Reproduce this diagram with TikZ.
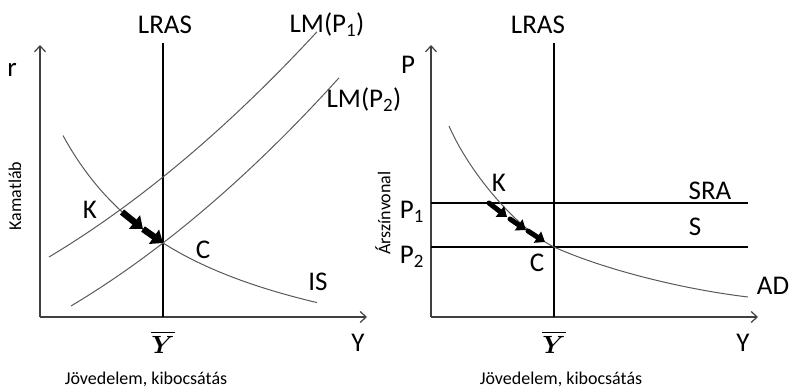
\documentclass[tikz,border=0pt]{standalone}
\usepackage{fontspec}
\setmainfont{Carlito}
\usepackage{amsmath}
\usepackage{bm}
\usetikzlibrary{arrows.meta}

\begin{document}
\begin{tikzpicture}[x=1pt, y=-1pt,
  axisline/.style={-{Straight Barb[length=6pt, width=11pt]}, line width=1.2pt, color=black!75},
  lras/.style={line width=2pt, color=black},
  mcurve/.style={line width=1pt, color=black!65},
  pline/.style={line width=2pt, color=black},
  adjarrow/.style={-{Triangle[length=11pt, width=17pt]}, line width=6.5pt, color=black},
  smallarrow/.style={-{Triangle[length=9pt, width=13pt]}, line width=5pt, line cap=round, color=black},
  lbl/.style={font=\fontsize{27}{30}\selectfont, inner sep=0pt},
  axtitle/.style={font=\fontsize{18}{20}\selectfont, inner sep=0pt},
  ybar/.style={font=\fontsize{24}{26}\selectfont, inner sep=0pt}
]
\useasboundingbox (0,0) rectangle (790,387);

% --- Left: IS-LM panel ---
\coordinate (lo)   at (40,317);
\coordinate (ltop) at (40,45);
\coordinate (lend) at (367,317);
\coordinate (lK)   at (122,212);
\coordinate (lM)   at (143,229);
\coordinate (lMM)  at (143,229);
\coordinate (lC)   at (163,243);
\draw[axisline] (lo) -- (ltop);
\draw[axisline] (lo) -- (lend);
\draw[lras] (163,43) -- (163,317);

% LM(P1), LM(P2), IS
\draw[mcurve] plot[domain=49:317, samples=60] (\x, {257 - 0.7018*(\x-49) - 0.000895*(\x-49)*(\x-163)});
\draw[mcurve] plot[domain=71:339, samples=60] (\x, {306 - 0.6848*(\x-71) - 0.000943*(\x-71)*(\x-163)});
\draw[mcurve] plot[domain=63:317, samples=60] (\x, {396.6 - 373.27/((\x+80)/100)});

\draw[adjarrow] (lK) -- (lM);
\draw[adjarrow] (lMM) -- (lC);

\node[lbl] (lrasL) at (165,25) {LRAS};
\node[lbl] (lmone) at (327,25) {LM(P\textsubscript{1})};
\node[lbl] (lmtwo) at (364,100) {LM(P\textsubscript{2})};
\node[lbl] (rlab) at (12,70) {r};
\node[lbl] (klabL) at (90,210) {K};
\node[lbl] (clabL) at (203,250) {C};
\node[lbl] (islab) at (318,282) {IS};
\node[lbl] (ylabL) at (358,343) {Y};
\node[ybar] (ybarL) at (163,342) {$\overline{\bm{Y}}$};
\node[axtitle] (capL) at (146,379) {Jövedelem, kibocsátás};
\node[axtitle, rotate=90] (kamat) at (15,196) {Kamatláb};

% --- Right: AS-AD panel ---
\coordinate (ro)   at (431,317);
\coordinate (rtop) at (431,45);
\coordinate (rend) at (758,317);
\coordinate (rK)   at (489,203);
\coordinate (ra)   at (507,217);
\coordinate (rb)   at (510,219);
\coordinate (rc)   at (526,230);
\coordinate (rd)   at (528,231);
\coordinate (rC)   at (545,242);
\coordinate (ad0)  at (449,126);
\coordinate (adC)  at (554,247);
\coordinate (ad1)  at (748,297);
\draw[axisline] (ro) -- (rtop);
\draw[axisline] (ro) -- (rend);
\draw[lras] (554,43) -- (554,317);
\draw[pline] (431,203) -- (748,203);
\draw[pline] (431,247) -- (748,247);

% AD
\draw[mcurve] (ad0) .. controls (470,174) and (517,228.5) .. (adC)
                    .. controls (602.6,268.9) and (680.2,288.9) .. (ad1);

\draw[smallarrow] (rK) -- (ra);
\draw[smallarrow] (rb) -- (rc);
\draw[smallarrow] (rd) -- (rC);

\node[lbl] (lrasR) at (538,25) {LRAS};
\node[lbl] (plab) at (408,65) {P};
\node[lbl] (pone) at (412,212) {P\textsubscript{1}};
\node[lbl] (ptwo) at (412,257) {P\textsubscript{2}};
\node[lbl] (klabR) at (499,183) {K};
\node[lbl] (clabR) at (537,263) {C};
\node[lbl] (sralab) at (710,191) {SRA};
\node[lbl] (slab) at (695,227) {S};
\node[lbl] (adlab) at (773,286) {AD};
\node[lbl] (ylabR) at (743,343) {Y};
\node[ybar] (ybarR) at (554,342) {$\overline{\bm{Y}}$};
\node[axtitle] (capR) at (561,379) {Jövedelem, kibocsátás};
\node[axtitle, rotate=90] (arszin) at (383,213) {Árszínvonal};

\end{tikzpicture}
\end{document}
